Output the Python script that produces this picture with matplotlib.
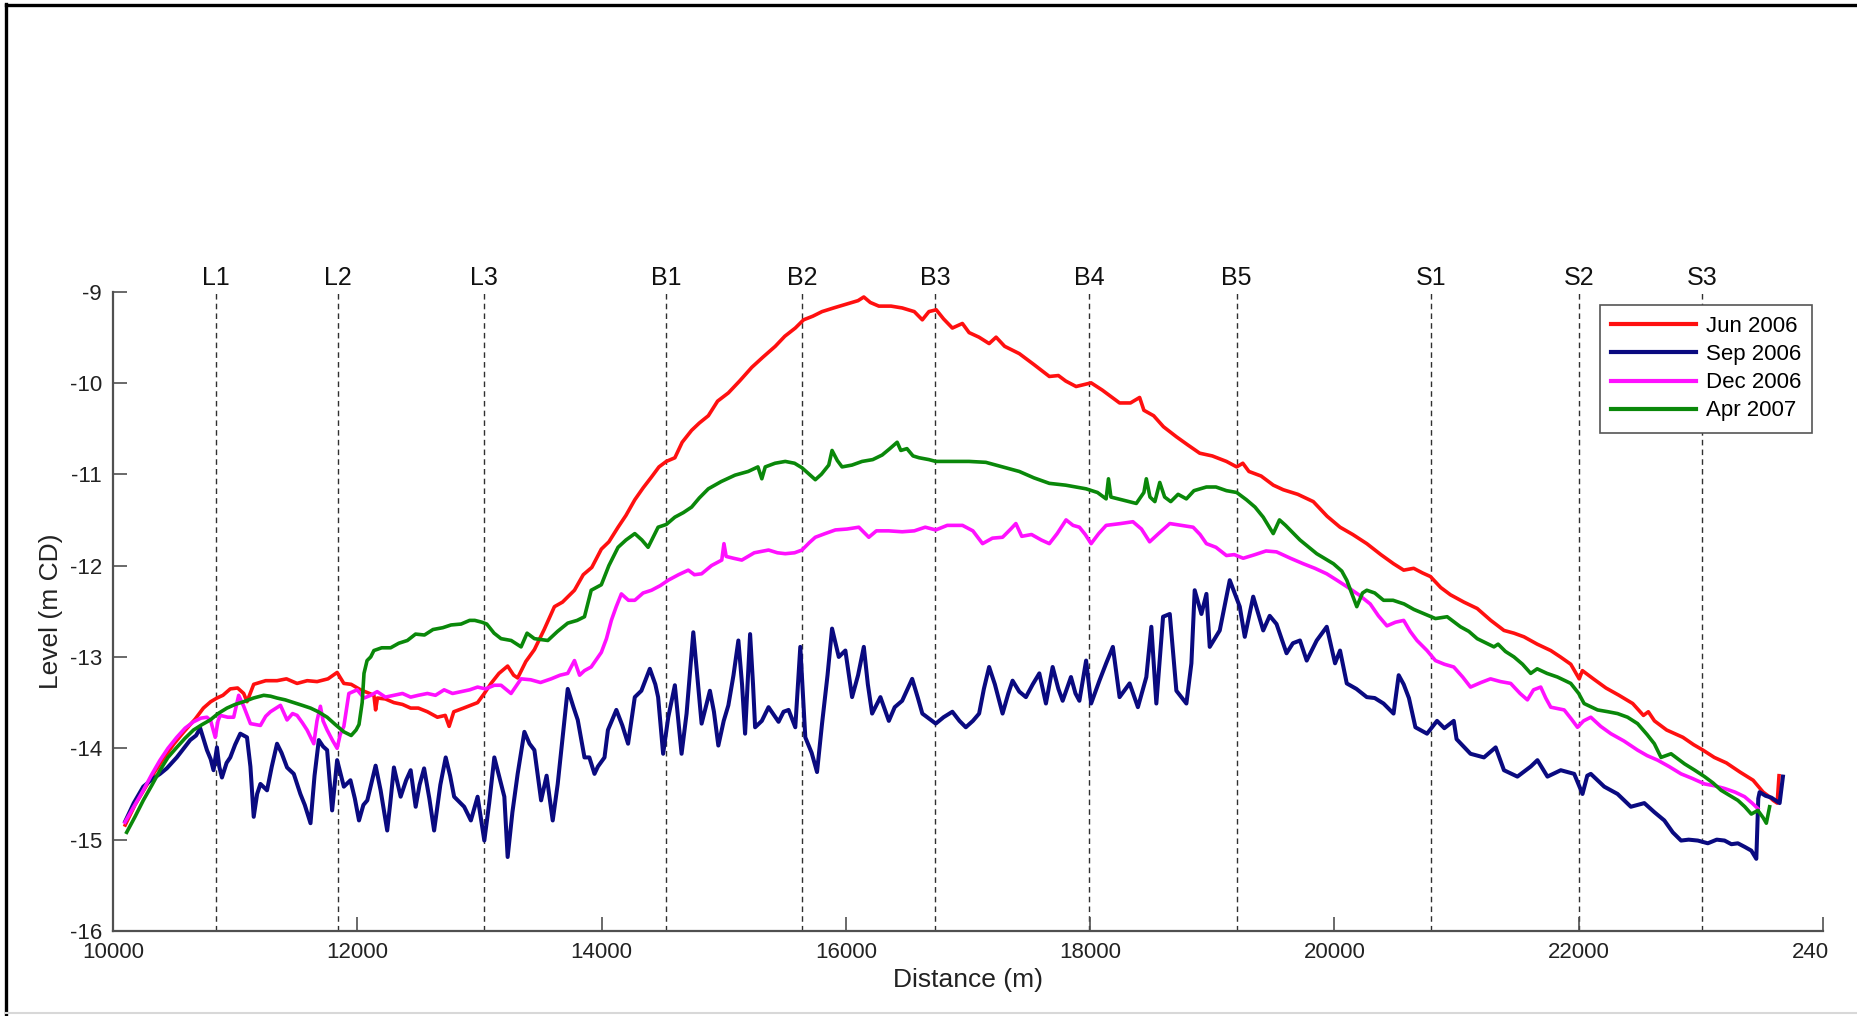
import matplotlib
matplotlib.use("Agg")
import matplotlib.pyplot as plt
from matplotlib.lines import Line2D
from matplotlib.transforms import ScaledTranslation

plt.rcParams["font.family"] = ["Liberation Sans", "DejaVu Sans"]
plt.rcParams["axes.unicode_minus"] = False

# ---- survey profiles: distance (m) and bed level (m CD) ----
jun2006_x = [10100, 10180, 10260, 10340, 10420, 10500, 10580, 10673, 10740, 10800, 10851, 10900, 10960, 11020,
             11070, 11097, 11152, 11250, 11343, 11420, 11507, 11590, 11671, 11760, 11835, 11890, 11950, 12027,
             12100, 12136, 12150, 12165, 12230, 12300, 12370, 12437, 12500, 12574, 12656, 12720, 12752, 12790,
             12870, 12985, 13040, 13095, 13160, 13231, 13280, 13313, 13380, 13450, 13530, 13614, 13680, 13778,
             13850, 13920, 13998, 14060, 14135, 14200, 14272, 14340, 14409, 14470, 14530, 14600, 14660, 14737,
             14800, 14874, 14950, 15038, 15130, 15230, 15320, 15422, 15500, 15586, 15654, 15730, 15805, 15900,
             16024, 16100, 16147, 16200, 16270, 16370, 16461, 16560, 16626, 16680, 16740, 16800, 16872, 16954,
             17009, 17090, 17173, 17230, 17300, 17420, 17540, 17666, 17740, 17800, 17885, 18008, 18100, 18241,
             18330, 18405, 18440, 18520, 18600, 18706, 18800, 18897, 19000, 19116, 19200, 19250, 19300, 19400,
             19500, 19581, 19700, 19827, 19940, 20046, 20150, 20265, 20380, 20484, 20567, 20649, 20720, 20786,
             20870, 20950, 21060, 21169, 21280, 21388, 21470, 21552, 21660, 21771, 21850, 21935, 22004, 22030,
             22120, 22223, 22330, 22442, 22530, 22570, 22620, 22720, 22853, 22940, 23017, 23110, 23209, 23320,
             23428, 23510, 23560, 23592, 23625, 23640]
jun2006_y = [-14.84, -14.62, -14.44, -14.26, -14.10, -13.95, -13.82, -13.68, -13.56, -13.49, -13.45, -13.42, -13.35, -13.34,
             -13.40, -13.49, -13.30, -13.26, -13.26, -13.24, -13.29, -13.26, -13.27, -13.24, -13.17, -13.29, -13.30, -13.36,
             -13.40, -13.42, -13.58, -13.45, -13.46, -13.50, -13.52, -13.56, -13.56, -13.60, -13.66, -13.64, -13.76, -13.60,
             -13.56, -13.50, -13.40, -13.29, -13.18, -13.10, -13.20, -13.23, -13.05, -12.92, -12.70, -12.45, -12.40, -12.27,
             -12.10, -12.02, -11.82, -11.74, -11.58, -11.45, -11.28, -11.15, -11.03, -10.92, -10.86, -10.82, -10.65, -10.52,
             -10.44, -10.36, -10.20, -10.11, -9.98, -9.83, -9.72, -9.60, -9.49, -9.40, -9.31, -9.27, -9.22, -9.18,
             -9.13, -9.10, -9.06, -9.12, -9.16, -9.16, -9.18, -9.22, -9.31, -9.22, -9.20, -9.30, -9.40, -9.35,
             -9.45, -9.50, -9.57, -9.50, -9.60, -9.68, -9.80, -9.93, -9.92, -9.98, -10.04, -10.00, -10.08, -10.22,
             -10.22, -10.16, -10.30, -10.36, -10.48, -10.59, -10.68, -10.77, -10.80, -10.86, -10.92, -10.88, -10.97, -11.02,
             -11.12, -11.17, -11.22, -11.30, -11.46, -11.58, -11.66, -11.76, -11.88, -11.98, -12.05, -12.03, -12.08, -12.12,
             -12.24, -12.32, -12.40, -12.47, -12.60, -12.71, -12.74, -12.78, -12.86, -12.93, -13.00, -13.08, -13.24, -13.15,
             -13.24, -13.34, -13.42, -13.51, -13.64, -13.60, -13.70, -13.80, -13.88, -13.96, -14.02, -14.10, -14.16, -14.26,
             -14.35, -14.48, -14.53, -14.57, -14.60, -14.30]

sep2006_x = [10100, 10170, 10248, 10320, 10385, 10440, 10522, 10580, 10632, 10680, 10714, 10769, 10800, 10823,
             10851, 10870, 10892, 10930, 10960, 11000, 11042, 11097, 11125, 11152, 11180, 11207, 11261, 11300,
             11343, 11380, 11425, 11480, 11534, 11570, 11617, 11650, 11685, 11720, 11753, 11794, 11835, 11890,
             11944, 11980, 12014, 12050, 12082, 12150, 12191, 12245, 12270, 12300, 12355, 12400, 12437, 12478,
             12510, 12547, 12590, 12629, 12680, 12724, 12760, 12793, 12875, 12930, 12985, 13040, 13080, 13122,
             13160, 13204, 13231, 13270, 13313, 13368, 13410, 13450, 13505, 13550, 13600, 13641, 13680, 13723,
             13770, 13805, 13860, 13900, 13942, 13970, 14024, 14052, 14121, 14170, 14217, 14272, 14326, 14395,
             14440, 14463, 14504, 14546, 14600, 14655, 14696, 14751, 14790, 14819, 14887, 14920, 14956, 15000,
             15038, 15080, 15120, 15150, 15175, 15216, 15240, 15257, 15312, 15367, 15449, 15490, 15531, 15586,
             15627, 15668, 15720, 15764, 15805, 15850, 15887, 15942, 15996, 16051, 16100, 16147, 16180, 16215,
             16283, 16352, 16400, 16461, 16543, 16590, 16626, 16736, 16800, 16872, 16930, 16982, 17040, 17091,
             17130, 17173, 17220, 17283, 17330, 17365, 17420, 17474, 17530, 17584, 17638, 17693, 17740, 17775,
             17843, 17880, 17912, 17967, 18008, 18076, 18131, 18186, 18241, 18323, 18391, 18460, 18501, 18542,
             18597, 18652, 18706, 18788, 18829, 18856, 18911, 18952, 18979, 19061, 19100, 19143, 19225, 19266,
             19335, 19417, 19470, 19526, 19608, 19660, 19718, 19773, 19855, 19937, 20005, 20046, 20101, 20180,
             20265, 20330, 20402, 20484, 20526, 20567, 20610, 20663, 20758, 20840, 20900, 20977, 21000, 21114,
             21224, 21320, 21388, 21498, 21607, 21662, 21744, 21853, 21963, 22031, 22070, 22099, 22209, 22318,
             22427, 22537, 22620, 22701, 22770, 22838, 22900, 22975, 23057, 23130, 23194, 23250, 23303, 23360,
             23413, 23454, 23470, 23481, 23530, 23577, 23645, 23672]
sep2006_y = [-14.80, -14.60, -14.42, -14.34, -14.28, -14.22, -14.10, -14.00, -13.91, -13.86, -13.78, -14.02, -14.12, -14.24,
             -13.99, -14.20, -14.32, -14.16, -14.10, -13.96, -13.84, -13.88, -14.20, -14.75, -14.50, -14.39, -14.46, -14.20,
             -13.95, -14.05, -14.21, -14.28, -14.50, -14.62, -14.82, -14.30, -13.91, -13.98, -14.02, -14.68, -14.13, -14.42,
             -14.35, -14.55, -14.79, -14.62, -14.57, -14.19, -14.46, -14.90, -14.60, -14.21, -14.53, -14.35, -14.24, -14.64,
             -14.40, -14.22, -14.55, -14.90, -14.40, -14.10, -14.30, -14.53, -14.64, -14.79, -14.53, -15.01, -14.60, -14.10,
             -14.30, -14.53, -15.19, -14.70, -14.28, -13.82, -13.95, -14.02, -14.57, -14.30, -14.79, -14.39, -13.90, -13.35,
             -13.55, -13.69, -14.10, -14.10, -14.28, -14.20, -14.10, -13.80, -13.58, -13.75, -13.95, -13.44, -13.37, -13.13,
             -13.30, -13.44, -14.06, -13.66, -13.31, -14.06, -13.62, -12.73, -13.30, -13.73, -13.37, -13.60, -13.97, -13.70,
             -13.53, -13.20, -12.82, -13.30, -13.84, -12.75, -13.30, -13.77, -13.70, -13.55, -13.71, -13.60, -13.58, -13.77,
             -12.89, -13.88, -14.05, -14.26, -13.73, -13.20, -12.69, -13.00, -12.93, -13.44, -13.20, -12.89, -13.30, -13.62,
             -13.44, -13.70, -13.55, -13.48, -13.24, -13.45, -13.62, -13.73, -13.66, -13.60, -13.70, -13.77, -13.70, -13.62,
             -13.35, -13.11, -13.30, -13.62, -13.40, -13.26, -13.38, -13.44, -13.30, -13.18, -13.51, -13.11, -13.35, -13.48,
             -13.22, -13.40, -13.48, -13.04, -13.51, -13.26, -13.07, -12.89, -13.44, -13.29, -13.55, -13.22, -12.67, -13.51,
             -12.56, -12.53, -13.37, -13.51, -13.07, -12.27, -12.53, -12.31, -12.89, -12.71, -12.45, -12.16, -12.45, -12.78,
             -12.34, -12.71, -12.55, -12.64, -12.96, -12.85, -12.82, -13.04, -12.82, -12.67, -13.07, -12.93, -13.29, -13.35,
             -13.44, -13.45, -13.51, -13.62, -13.20, -13.30, -13.45, -13.77, -13.84, -13.70, -13.78, -13.70, -13.90, -14.06,
             -14.10, -13.99, -14.24, -14.31, -14.20, -14.13, -14.31, -14.24, -14.28, -14.50, -14.30, -14.28, -14.42, -14.50,
             -14.64, -14.60, -14.70, -14.79, -14.92, -15.01, -15.00, -15.01, -15.04, -15.00, -15.01, -15.05, -15.04, -15.08,
             -15.12, -15.21, -14.55, -14.48, -14.52, -14.54, -14.60, -14.31]

dec2006_x = [10098, 10170, 10248, 10320, 10385, 10450, 10522, 10590, 10659, 10720, 10769, 10800, 10837, 10860,
             10878, 10940, 10988, 11029, 11070, 11125, 11207, 11250, 11289, 11371, 11425, 11470, 11507, 11550,
             11589, 11644, 11670, 11698, 11720, 11753, 11800, 11835, 11860, 11890, 11931, 11999, 12055, 12110,
             12163, 12230, 12300, 12370, 12437, 12500, 12574, 12640, 12711, 12780, 12848, 12920, 12985, 13050,
             13122, 13177, 13259, 13341, 13420, 13500, 13587, 13660, 13723, 13778, 13820, 13860, 13915, 13998,
             14040, 14080, 14120, 14162, 14220, 14272, 14340, 14409, 14480, 14546, 14630, 14710, 14760, 14819,
             14900, 14984, 15002, 15020, 15080, 15148, 15250, 15367, 15440, 15504, 15580, 15641, 15700, 15750,
             15830, 15914, 16010, 16106, 16188, 16250, 16350, 16461, 16560, 16650, 16736, 16830, 16955, 17040,
             17119, 17200, 17283, 17350, 17392, 17440, 17520, 17600, 17666, 17730, 17803, 17860, 17912, 17960,
             18008, 18070, 18131, 18250, 18350, 18420, 18487, 18560, 18652, 18750, 18843, 18900, 18952, 19030,
             19116, 19180, 19253, 19350, 19440, 19526, 19640, 19745, 19840, 19937, 20020, 20101, 20200, 20293,
             20360, 20430, 20500, 20567, 20620, 20676, 20758, 20827, 20900, 20977, 21050, 21114, 21200, 21278,
             21360, 21443, 21520, 21580, 21630, 21689, 21730, 21771, 21881, 21940, 21990, 22040, 22099, 22180,
             22263, 22370, 22482, 22560, 22646, 22740, 22838, 22930, 23030, 23110, 23194, 23280, 23358, 23420,
             23467]
dec2006_y = [-14.81, -14.64, -14.46, -14.28, -14.13, -14.00, -13.88, -13.78, -13.71, -13.67, -13.66, -13.70, -13.88, -13.70,
             -13.64, -13.66, -13.66, -13.42, -13.54, -13.73, -13.75, -13.65, -13.60, -13.53, -13.69, -13.62, -13.64, -13.72,
             -13.80, -13.95, -13.70, -13.54, -13.70, -13.80, -13.92, -14.00, -13.85, -13.76, -13.40, -13.36, -13.45, -13.42,
             -13.38, -13.44, -13.42, -13.40, -13.44, -13.42, -13.40, -13.42, -13.36, -13.40, -13.38, -13.36, -13.33, -13.35,
             -13.31, -13.31, -13.40, -13.24, -13.25, -13.28, -13.24, -13.20, -13.18, -13.04, -13.20, -13.15, -13.11, -12.95,
             -12.80, -12.60, -12.45, -12.31, -12.38, -12.38, -12.30, -12.27, -12.22, -12.16, -12.10, -12.05, -12.10, -12.09,
             -12.00, -11.94, -11.76, -11.90, -11.92, -11.94, -11.86, -11.83, -11.86, -11.87, -11.86, -11.83, -11.75, -11.69,
             -11.65, -11.61, -11.60, -11.58, -11.69, -11.62, -11.62, -11.63, -11.62, -11.58, -11.61, -11.56, -11.56, -11.62,
             -11.76, -11.70, -11.69, -11.60, -11.54, -11.68, -11.66, -11.72, -11.76, -11.65, -11.50, -11.56, -11.58, -11.66,
             -11.76, -11.65, -11.56, -11.54, -11.52, -11.60, -11.74, -11.65, -11.54, -11.56, -11.58, -11.66, -11.76, -11.80,
             -11.89, -11.88, -11.92, -11.88, -11.84, -11.85, -11.92, -11.98, -12.03, -12.09, -12.16, -12.23, -12.32, -12.42,
             -12.55, -12.66, -12.62, -12.60, -12.72, -12.82, -12.93, -13.04, -13.08, -13.11, -13.22, -13.33, -13.28, -13.24,
             -13.27, -13.29, -13.40, -13.47, -13.36, -13.33, -13.45, -13.55, -13.58, -13.68, -13.77, -13.70, -13.66, -13.76,
             -13.84, -13.92, -14.02, -14.08, -14.13, -14.20, -14.28, -14.33, -14.39, -14.41, -14.44, -14.48, -14.53, -14.60,
             -14.66]

apr2007_x = [10112, 10180, 10248, 10320, 10385, 10450, 10522, 10590, 10659, 10730, 10796, 10860, 10933, 11000,
             11070, 11150, 11234, 11290, 11343, 11410, 11480, 11550, 11617, 11680, 11753, 11820, 11890, 11950,
             11990, 12014, 12040, 12055, 12080, 12110, 12136, 12200, 12273, 12340, 12410, 12477, 12550, 12620,
             12700, 12768, 12850, 12920, 12962, 13020, 13060, 13120, 13177, 13260, 13341, 13390, 13450, 13560,
             13640, 13723, 13800, 13860, 13915, 13998, 14060, 14135, 14200, 14272, 14330, 14381, 14463, 14530,
             14600, 14670, 14737, 14800, 14874, 14980, 15093, 15200, 15280, 15312, 15340, 15420, 15504, 15580,
             15641, 15700, 15750, 15800, 15860, 15887, 15930, 15969, 16050, 16133, 16220, 16297, 16360, 16420,
             16450, 16500, 16550, 16600, 16680, 16736, 16850, 17009, 17146, 17283, 17420, 17540, 17666, 17800,
             17967, 18060, 18131, 18150, 18170, 18260, 18378, 18440, 18460, 18490, 18530, 18570, 18610, 18660,
             18720, 18788, 18850, 18952, 19030, 19116, 19200, 19280, 19350, 19417, 19499, 19550, 19600, 19718,
             19855, 19992, 20060, 20101, 20183, 20230, 20265, 20330, 20402, 20480, 20570, 20650, 20720, 20827,
             20923, 21032, 21100, 21169, 21306, 21340, 21400, 21470, 21540, 21607, 21660, 21740, 21826, 21935,
             22000, 22044, 22154, 22240, 22318, 22400, 22482, 22560, 22619, 22674, 22756, 22866, 22950, 23030,
             23100, 23166, 23240, 23303, 23360, 23413, 23467, 23510, 23536, 23563]
apr2007_y = [-14.92, -14.75, -14.57, -14.40, -14.24, -14.10, -13.99, -13.89, -13.80, -13.74, -13.69, -13.62, -13.56, -13.52,
             -13.49, -13.45, -13.42, -13.43, -13.45, -13.47, -13.50, -13.53, -13.56, -13.60, -13.66, -13.74, -13.82, -13.86,
             -13.80, -13.74, -13.50, -13.18, -13.04, -13.00, -12.93, -12.90, -12.90, -12.85, -12.82, -12.75, -12.76, -12.70,
             -12.68, -12.65, -12.64, -12.60, -12.60, -12.62, -12.64, -12.74, -12.80, -12.82, -12.89, -12.74, -12.80, -12.82,
             -12.72, -12.63, -12.60, -12.56, -12.27, -12.21, -12.00, -11.80, -11.72, -11.65, -11.72, -11.80, -11.58, -11.55,
             -11.47, -11.42, -11.36, -11.26, -11.16, -11.08, -11.01, -10.97, -10.92, -11.05, -10.92, -10.88, -10.86, -10.88,
             -10.93, -11.00, -11.06, -11.00, -10.90, -10.74, -10.85, -10.92, -10.90, -10.86, -10.84, -10.79, -10.72, -10.65,
             -10.74, -10.72, -10.80, -10.82, -10.84, -10.86, -10.86, -10.86, -10.87, -10.92, -10.97, -11.04, -11.10, -11.12,
             -11.16, -11.20, -11.27, -11.05, -11.25, -11.28, -11.32, -11.20, -11.05, -11.25, -11.30, -11.09, -11.25, -11.30,
             -11.22, -11.27, -11.18, -11.14, -11.14, -11.18, -11.20, -11.28, -11.36, -11.47, -11.65, -11.50, -11.56, -11.72,
             -11.87, -11.98, -12.06, -12.16, -12.45, -12.30, -12.27, -12.30, -12.38, -12.38, -12.42, -12.48, -12.52, -12.58,
             -12.56, -12.67, -12.72, -12.80, -12.89, -12.86, -12.94, -13.00, -13.08, -13.18, -13.13, -13.18, -13.22, -13.29,
             -13.40, -13.51, -13.58, -13.60, -13.62, -13.66, -13.73, -13.85, -13.95, -14.10, -14.06, -14.17, -14.24, -14.31,
             -14.38, -14.46, -14.52, -14.57, -14.64, -14.72, -14.68, -14.76, -14.82, -14.64]

series_labels = ["Jun 2006", "Sep 2006", "Dec 2006", "Apr 2007"]
series_colors = ["#ff1010", "#0a0a80", "#ff10ff", "#0a880a"]
series_widths = [2.6, 2.9, 2.6, 2.6]

# ---- section markers along the channel ----
section_names = ["L1", "L2", "L3", "B1", "B2", "B3", "B4", "B5", "S1", "S2", "S3"]
section_x = [10840, 11840, 13040, 14530, 15640, 16730, 17990, 19200, 20790, 22000, 23010]

x_ticks = [10000, 12000, 14000, 16000, 18000, 20000, 22000, 24000]
x_tick_labels = ["10000", "12000", "14000", "16000", "18000", "20000", "22000", "240"]
y_ticks = [-16, -15, -14, -13, -12, -11, -10, -9]

W, H = 1858, 1016
fig = plt.figure(figsize=(W / 100, H / 100), dpi=100)
ax = fig.add_axes([113 / W, 1 - 931 / H, (1823 - 113) / W, (931 - 291.5) / H])

spine_col = "#505050"
for s in ("top", "right"):
    ax.spines[s].set_visible(False)
for s in ("left", "bottom"):
    ax.spines[s].set_color(spine_col)
    ax.spines[s].set_linewidth(1.6)

for xs in section_x:
    ax.axvline(xs, color="#303030", lw=1.0, ls=(0, (4, 3)), zorder=1)
for name, xs in zip(section_names, section_x):
    ax.annotate(name, xy=(xs, -9), xytext=(0, 4.5), textcoords="offset points",
                ha="center", va="baseline", fontsize=18, color="#111111",
                annotation_clip=False)

data = [(jun2006_x, jun2006_y), (sep2006_x, sep2006_y), (dec2006_x, dec2006_y), (apr2007_x, apr2007_y)]
for (xs, ys), lab, col, lw in zip(data, series_labels, series_colors, series_widths):
    ax.plot(xs, ys, color=col, lw=lw, label=lab, zorder=3)

ax.set_xlim(10000, 24000)
ax.set_ylim(-16, -9)
ax.set_xticks(x_ticks)
ax.set_xticklabels(x_tick_labels)
ax.set_yticks(y_ticks)
ax.tick_params(direction="in", length=10, width=1.2, color=spine_col,
               labelsize=16, labelcolor="#222222", pad=8)

# the last distance label sits left-aligned at the axis end
last = ax.get_xticklabels()[-1]
last.set_horizontalalignment("left")
last.set_transform(last.get_transform() + ScaledTranslation(-0.31, 0, fig.dpi_scale_trans))

ax.set_xlabel("Distance (m)", fontsize=19, color="#222222")
ax.set_ylabel("Level (m CD)", fontsize=19, color="#222222")
ax.xaxis.set_label_coords(0.5, -0.058)
ax.yaxis.set_label_coords(-0.0295, 0.5)

leg = ax.legend(loc="upper right", bbox_to_anchor=(1812 / W, 1 - 305 / H),
                bbox_transform=fig.transFigure, fontsize=16, frameon=True,
                fancybox=False, framealpha=1, edgecolor="#555555",
                borderpad=0.5, labelspacing=0.32, handlelength=3.8,
                handletextpad=0.45, borderaxespad=0)
leg.get_frame().set_linewidth(1.2)
for lh in leg.get_lines():
    lh.set_linewidth(3)

# outer frame of the figure panel
fig.add_artist(Line2D([6.5 / W, 6.5 / W], [0, 1 - 4 / H], transform=fig.transFigure,
                      color="black", lw=2.4))
fig.add_artist(Line2D([6.5 / W, 1], [1 - 5 / H, 1 - 5 / H], transform=fig.transFigure,
                      color="black", lw=2.4))
fig.add_artist(Line2D([6.5 / W, 1], [3 / H, 3 / H], transform=fig.transFigure,
                      color="#d8d8d8", lw=1.5))

fig.savefig("out.png", dpi=100, facecolor="white")
